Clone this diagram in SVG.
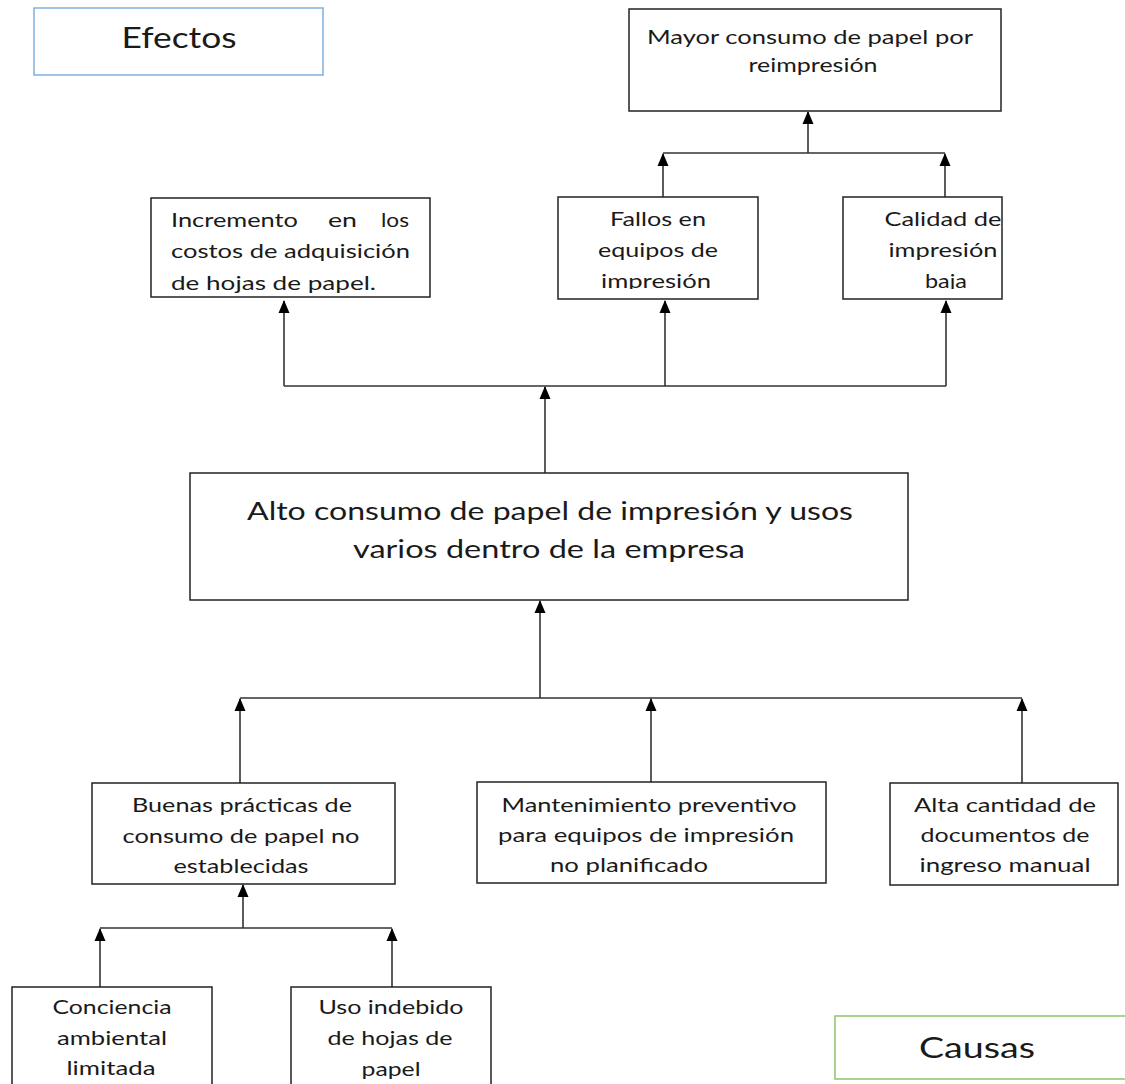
<svg xmlns="http://www.w3.org/2000/svg" width="1125" height="1084" viewBox="0 0 1125 1084">
<style>
.box{fill:#fff;stroke:#222;stroke-width:1.5}
.t{font-family:Lato,"Open Sans","DejaVu Sans",sans-serif;fill:#1a1a1a;font-size:19px}
.tm{font-size:25px}
.tl{font-size:28px}
.c{stroke:#333;stroke-width:1.6;fill:none}
.a{marker-end:url(#ah)}
</style>
<defs>
<marker id="ah" markerUnits="userSpaceOnUse" markerWidth="12" markerHeight="14" refX="6" refY="1" orient="0" viewBox="0 0 12 14" overflow="visible">
<path d="M6,0 L11.5,13 L0.5,13 Z" fill="#000"/>
</marker>
<clipPath id="c1"><rect x="151" y="198" width="279" height="95"/></clipPath>
<clipPath id="c2"><rect x="558" y="197" width="200" height="92"/></clipPath>
<clipPath id="c3"><rect x="843" y="197" width="159" height="92"/></clipPath>
<clipPath id="c4"><rect x="291" y="987" width="200" height="94"/></clipPath>
</defs>
<rect width="1125" height="1084" fill="#fff"/>

<g id="connectors">
<path class="c a" d="M808,153 L808,112"/>
<path class="c" d="M663,153 L945,153"/>
<path class="c a" d="M663,197 L663,154"/>
<path class="c a" d="M945,197 L945,154"/>
<path class="c" d="M284,386 L946,386"/>
<path class="c a" d="M284,386 L284,301"/>
<path class="c a" d="M665,386 L665,301"/>
<path class="c a" d="M946,386 L946,301"/>
<path class="c a" d="M545,473 L545,387"/>
<path class="c a" d="M540,698 L540,601"/>
<path class="c" d="M240,698 L1022,698"/>
<path class="c a" d="M240,783 L240,699"/>
<path class="c a" d="M651,782 L651,699"/>
<path class="c a" d="M1022,783 L1022,699"/>
<path class="c a" d="M243,928 L243,885"/>
<path class="c" d="M100,928 L392,928"/>
<path class="c a" d="M100,987 L100,929"/>
<path class="c a" d="M392,987 L392,929"/>
</g>

<g id="efectos">
<rect x="34" y="8" width="289" height="67" fill="#fff" stroke="#7fb0e0" stroke-width="1.5"/>
<text class="t tl" x="179" y="48" text-anchor="middle" textLength="115" lengthAdjust="spacingAndGlyphs">Efectos</text>
</g>

<g id="mayor">
<rect class="box" x="629" y="9" width="372" height="102"/>
<text class="t" x="810" y="44" text-anchor="middle" textLength="326" lengthAdjust="spacingAndGlyphs">Mayor consumo de papel por</text>
<text class="t" x="813" y="72" text-anchor="middle" textLength="129" lengthAdjust="spacingAndGlyphs">reimpresión</text>
</g>

<g id="incremento">
<rect class="box" x="151" y="198" width="279" height="99"/>
<g clip-path="url(#c1)">
<text class="t" x="171" y="227" textLength="127" lengthAdjust="spacingAndGlyphs">Incremento</text>
<text class="t" x="328" y="227" textLength="29" lengthAdjust="spacingAndGlyphs">en</text>
<text class="t" x="381" y="227" textLength="28" lengthAdjust="spacingAndGlyphs">los</text>
<text class="t" x="171" y="258" textLength="239" lengthAdjust="spacingAndGlyphs">costos de adquisición</text>
<text class="t" x="171" y="290" textLength="205" lengthAdjust="spacingAndGlyphs">de hojas de papel.</text>
</g>
</g>

<g id="fallos">
<rect class="box" x="558" y="197" width="200" height="102"/>
<g clip-path="url(#c2)">
<text class="t" x="658" y="226" text-anchor="middle" textLength="96" lengthAdjust="spacingAndGlyphs">Fallos en</text>
<text class="t" x="658" y="257" text-anchor="middle" textLength="120" lengthAdjust="spacingAndGlyphs">equipos de</text>
<text class="t" x="656" y="288" text-anchor="middle" textLength="110" lengthAdjust="spacingAndGlyphs">impresión</text>
</g>
</g>

<g id="calidad">
<rect class="box" x="843" y="197" width="159" height="102"/>
<g clip-path="url(#c3)">
<text class="t" x="943" y="226" text-anchor="middle" textLength="117" lengthAdjust="spacingAndGlyphs">Calidad de</text>
<text class="t" x="943" y="257" text-anchor="middle" textLength="109" lengthAdjust="spacingAndGlyphs">impresión</text>
<text class="t" x="946" y="288" text-anchor="middle" textLength="42" lengthAdjust="spacingAndGlyphs">baja</text>
</g>
</g>

<g id="alto">
<rect class="box" x="190" y="473" width="718" height="127"/>
<text class="t tm" x="550" y="520" text-anchor="middle" textLength="606" lengthAdjust="spacingAndGlyphs">Alto consumo de papel de impresión y usos</text>
<text class="t tm" x="549" y="558" text-anchor="middle" textLength="392" lengthAdjust="spacingAndGlyphs">varios dentro de la empresa</text>
</g>

<g id="buenas">
<rect class="box" x="92" y="783" width="303" height="101"/>
<text class="t" x="242" y="812" text-anchor="middle" textLength="220" lengthAdjust="spacingAndGlyphs">Buenas prácticas de</text>
<text class="t" x="241" y="843" text-anchor="middle" textLength="237" lengthAdjust="spacingAndGlyphs">consumo de papel no</text>
<text class="t" x="241" y="873" text-anchor="middle" textLength="135" lengthAdjust="spacingAndGlyphs">establecidas</text>
</g>

<g id="mantenimiento">
<rect class="box" x="477" y="782" width="349" height="101"/>
<text class="t" x="649" y="812" text-anchor="middle" textLength="295" lengthAdjust="spacingAndGlyphs">Mantenimiento preventivo</text>
<text class="t" x="646" y="842" text-anchor="middle" textLength="296" lengthAdjust="spacingAndGlyphs">para equipos de impresión</text>
<text class="t" x="629" y="872" text-anchor="middle" textLength="158" lengthAdjust="spacingAndGlyphs">no planificado</text>
</g>

<g id="alta">
<rect class="box" x="890" y="783" width="228" height="102"/>
<text class="t" x="1005" y="812" text-anchor="middle" textLength="182" lengthAdjust="spacingAndGlyphs">Alta cantidad de</text>
<text class="t" x="1005" y="842" text-anchor="middle" textLength="169" lengthAdjust="spacingAndGlyphs">documentos de</text>
<text class="t" x="1005" y="872" text-anchor="middle" textLength="171" lengthAdjust="spacingAndGlyphs">ingreso manual</text>
</g>

<g id="conciencia">
<rect class="box" x="12" y="987" width="200" height="110"/>
<text class="t" x="112" y="1014" text-anchor="middle" textLength="119" lengthAdjust="spacingAndGlyphs">Conciencia</text>
<text class="t" x="112" y="1045" text-anchor="middle" textLength="110" lengthAdjust="spacingAndGlyphs">ambiental</text>
<text class="t" x="111" y="1075" text-anchor="middle" textLength="89" lengthAdjust="spacingAndGlyphs">limitada</text>
</g>

<g id="uso">
<rect class="box" x="291" y="987" width="200" height="110"/>
<g clip-path="url(#c4)">
<text class="t" x="391" y="1014" text-anchor="middle" textLength="145" lengthAdjust="spacingAndGlyphs">Uso indebido</text>
<text class="t" x="390" y="1045" text-anchor="middle" textLength="125" lengthAdjust="spacingAndGlyphs">de hojas de</text>
<text class="t" x="391" y="1076" text-anchor="middle" textLength="59" lengthAdjust="spacingAndGlyphs">papel</text>
</g>
</g>

<g id="causas">
<rect x="835" y="1016" width="300" height="63" fill="#fff" stroke="#8cc46c" stroke-width="1.5"/>
<text class="t tl" x="977" y="1058" text-anchor="middle" textLength="116" lengthAdjust="spacingAndGlyphs">Causas</text>
</g>
</svg>
